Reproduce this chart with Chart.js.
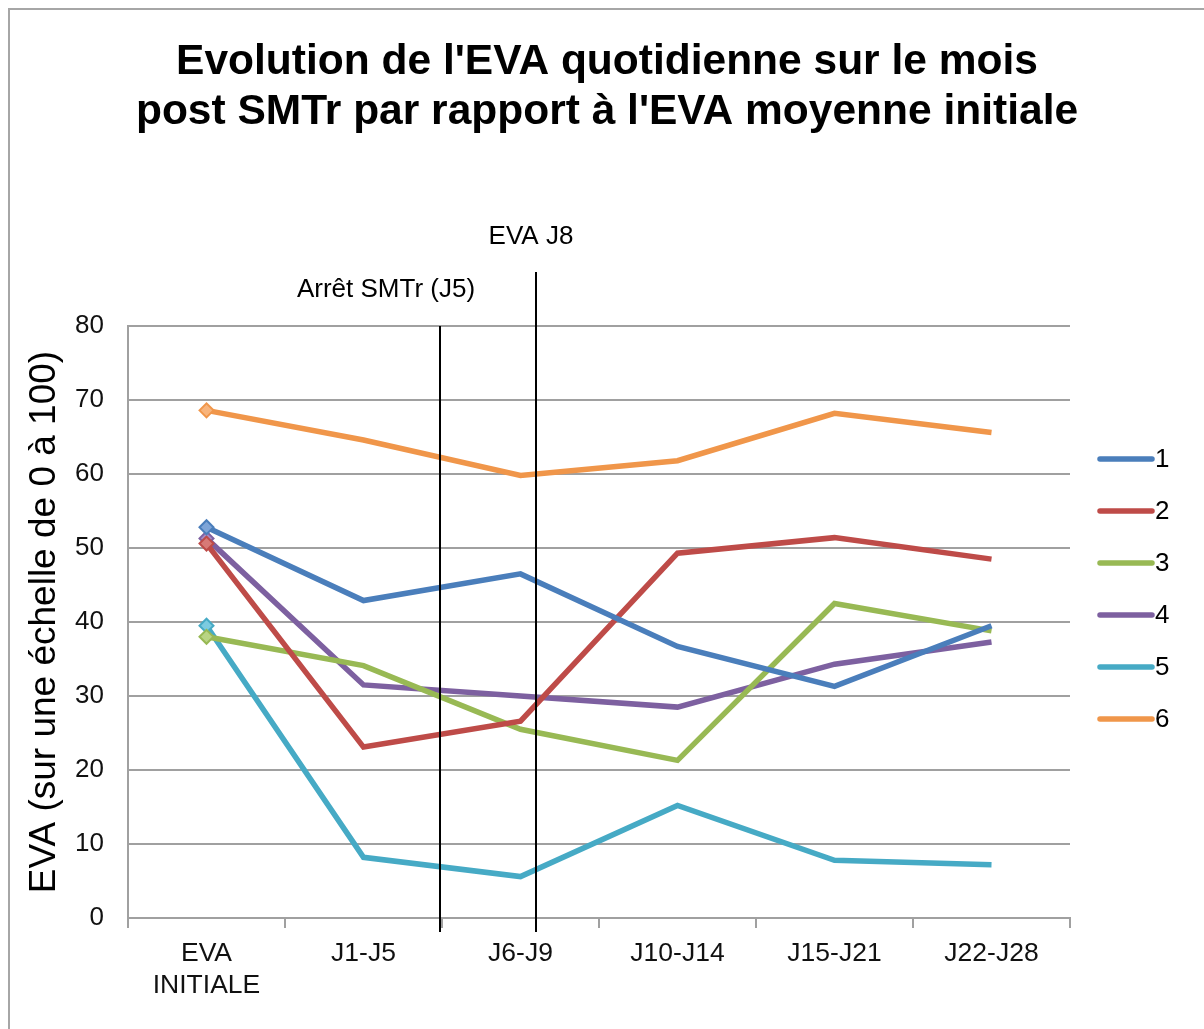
<!DOCTYPE html>
<html lang="fr">
<head>
<meta charset="UTF-8">
<title>EVA quotidienne post SMTr</title>
<script src="https://cdn.jsdelivr.net/npm/chart.js"></script>
<style>
    html, body {
        margin: 0;
        padding: 0;
        background: #fff;
        overflow: hidden;
    }
    #frame {
        position: absolute;
        left: 8px;
        top: 8px;
        width: 1300px;
        height: 1100px;
        border: 2px solid #a6a6a6;
    }
    #wrap {
        position: absolute;
        left: 0;
        top: 0;
        width: 1204px;
        height: 1029px;
    }
</style>
</head>
<body>
<div id="frame"></div>
<div id="wrap"><canvas id="chart"></canvas></div>
<script>
    // categories and series
    const categories = [["EVA", "INITIALE"], "J1-J5", "J6-J9", "J10-J14", "J15-J21", "J22-J28"];
    const serie1 = [52.8, 42.9, 46.5, 36.7, 31.3, 39.5];
    const serie2 = [50.6, 23.1, 26.6, 49.3, 51.4, 48.5];
    const serie3 = [38.0, 34.1, 25.5, 21.3, 42.5, 38.8];
    const serie4 = [51.3, 31.5, 30.0, 28.5, 34.3, 37.3];
    const serie5 = [39.5, 8.2, 5.6, 15.2, 7.8, 7.2];
    const serie6 = [68.6, 64.6, 59.8, 61.8, 68.2, 65.6];
    const seriesNames = ["1", "2", "3", "4", "5", "6"];
    const yTicks = [0, 10, 20, 30, 40, 50, 60, 70, 80];

    // event markers, position in category units (0 = EVA INITIALE)
    const eventLabels = ["Arrêt SMTr (J5)", "EVA J8"];
    const eventPos = [1.49, 2.10];

    const colors = ["#4a7ebb", "#be4b48", "#98b954", "#7d60a0", "#46aac5", "#f0964a"];
    const fills = ["#7ea5d8", "#d77a77", "#b9d484", "#a68bc4", "#7ccbe0", "#f8b47c"];
    const FONT = '"Liberation Sans", Arial, sans-serif';

    const allSeries = [serie1, serie2, serie3, serie4, serie5, serie6];

    const datasets = allSeries.map((vals, i) => ({
        label: seriesNames[i],
        data: vals,
        borderColor: colors[i],
        backgroundColor: fills[i],
        borderWidth: 5.5,
        pointStyle: 'rectRot',
        pointRadius: ctx => ctx.dataIndex === 0 ? 7 : 0,
        pointBorderWidth: 2,
        pointBorderColor: colors[i],
        pointBackgroundColor: fills[i],
        tension: 0
    }));

    const extras = {
        id: 'extras',
        afterDraw(chart) {
            const ctx = chart.ctx;
            const x = chart.scales.x;
            const area = chart.chartArea;
            const step = x.getPixelForValue(1) - x.getPixelForValue(0);

            // title
            ctx.save();
            ctx.fillStyle = '#000';
            ctx.font = 'bold 42.5px ' + FONT;
            ctx.textAlign = 'center';
            ctx.textBaseline = 'middle';
            ctx.fillText("Evolution de l'EVA quotidienne sur le mois", 607, 62);
            ctx.fillText("post SMTr par rapport à l'EVA moyenne initiale", 607, 112);

            // vertical event lines
            const tops = [area.top, 272];
            ctx.strokeStyle = '#000';
            ctx.lineWidth = 2;
            ctx.font = '26px ' + FONT;
            eventPos.forEach((p, i) => {
                const px = Math.round(x.getPixelForValue(0) + p * step);
                ctx.beginPath();
                ctx.moveTo(px, tops[i]);
                ctx.lineTo(px, area.bottom + 14);
                ctx.stroke();
            });
            ctx.fillText(eventLabels[0], 386, 290);
            ctx.fillText(eventLabels[1], 531, 237);

            // legend
            ctx.lineCap = 'round';
            ctx.lineWidth = 5.5;
            ctx.textAlign = 'left';
            chart.data.datasets.forEach((ds, i) => {
                const y = 459 + i * 52;
                ctx.strokeStyle = ds.borderColor;
                ctx.beginPath();
                ctx.moveTo(1100, y);
                ctx.lineTo(1152, y);
                ctx.stroke();
                ctx.fillStyle = '#000';
                ctx.fillText(ds.label, 1155, y + 1);
            });
            ctx.restore();
        }
    };

    new Chart(document.getElementById('chart'), {
        type: 'line',
        data: { labels: categories, datasets: datasets },
        plugins: [extras],
        options: {
            responsive: true,
            maintainAspectRatio: false,
            animation: false,
            layout: { padding: { left: 23, right: 134, top: 326, bottom: 21 } },
            plugins: {
                legend: { display: false },
                title: { display: false },
                tooltip: { enabled: false }
            },
            scales: {
                x: {
                    offset: true,
                    afterFit: scale => {
                        scale.paddingLeft = 0;
                        scale.paddingRight = 0;
                        scale.height = 90;
                    },
                    grid: {
                        offset: true,
                        drawOnChartArea: false,
                        drawTicks: true,
                        tickLength: 10,
                        color: '#a0a0a0',
                        lineWidth: 2
                    },
                    border: { color: '#a0a0a0', width: 2 },
                    ticks: {
                        color: '#111',
                        font: { family: FONT, size: 26.5, lineHeight: 1.21 },
                        padding: 10,
                        maxRotation: 0
                    }
                },
                y: {
                    min: 0,
                    max: 80,
                    afterBuildTicks: axis => { axis.ticks = yTicks.map(v => ({ value: v })); },
                    afterFit: scale => { scale.width = 105; },
                    grid: { color: '#a0a0a0', lineWidth: 2, drawTicks: false },
                    border: { color: '#a0a0a0', width: 2 },
                    ticks: {
                        color: '#111',
                        font: { family: FONT, size: 26 },
                        padding: 24
                    },
                    title: {
                        display: true,
                        text: "EVA (sur une échelle de 0 à 100)",
                        color: '#000',
                        font: { family: FONT, size: 37 },
                        padding: { top: 0, bottom: 8 }
                    }
                }
            }
        }
    });
</script>
</body>
</html>
